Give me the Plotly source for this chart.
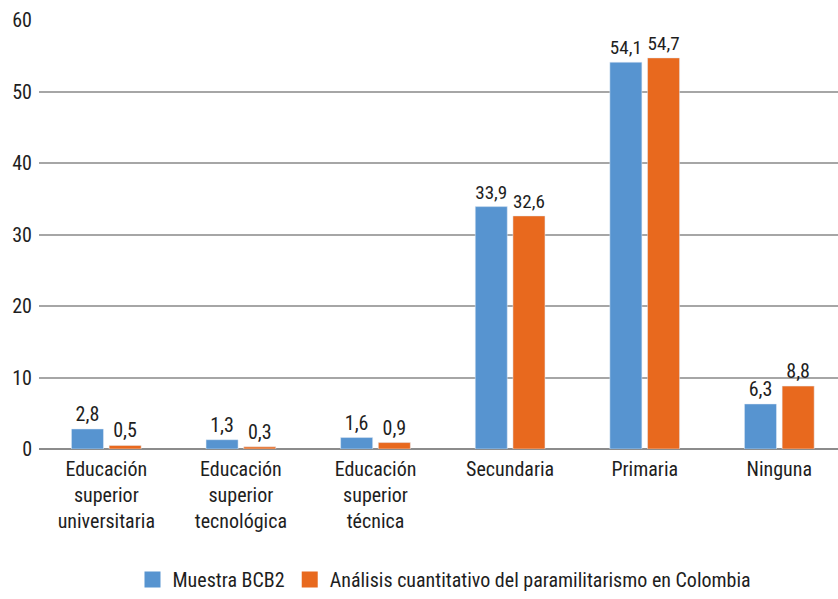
import plotly.graph_objects as go

categories = [
    'Educación<br>superior<br>universitaria',
    'Educación<br>superior<br>tecnológica',
    'Educación<br>superior<br>técnica',
    'Secundaria',
    'Primaria',
    'Ninguna',
]
muestra_bcb2 = [2.8, 1.3, 1.6, 33.9, 54.1, 6.3]
analisis_cuantitativo = [0.5, 0.3, 0.9, 32.6, 54.7, 8.8]
series_names = ['Muestra BCB2', 'Análisis cuantitativo del paramilitarismo en Colombia']
series_colors = ['#5794d0', '#e8691e']

FONT = 'Liberation Sans Narrow, Roboto Condensed, Arial Narrow, sans-serif'
TEXT = '#1e1e1e'

fig = go.Figure()
for values, name, color in zip([muestra_bcb2, analisis_cuantitativo], series_names, series_colors):
    fig.add_trace(go.Bar(
        x = categories,
        y = values,
        name = name,
        marker_color = color,
        texttemplate = '%{y:.1f}',
        textposition = 'outside',
        textfont = dict(size=20, color=TEXT),
        cliponaxis = False,
        showlegend = False,
    ))

# square legend swatches, larger than plotly's default bar symbol
for name, color in zip(series_names, series_colors):
    fig.add_trace(go.Scatter(
        x = [None],
        y = [None],
        mode = 'markers',
        name = name,
        marker = dict(symbol='square', size=19, color=color),
    ))

fig.update_layout(
    width = 838,
    height = 599,
    margin = dict(l=39, r=0, t=20, b=150),
    separators = ',.',
    font = dict(family=FONT, size=20, color=TEXT),
    plot_bgcolor = 'white',
    paper_bgcolor = 'white',
    barmode = 'group',
    bargap = 0.44,
    bargroupgap = 0.15,
    xaxis = dict(
        range = [-0.5, 5.436],
        showgrid = False,
        ticks = '',
        ticklabelstandoff = 6,
        automargin = False,
    ),
    yaxis = dict(
        range = [0, 60],
        dtick = 10,
        showgrid = True,
        gridcolor = '#a6a6a6',
        gridwidth = 1.5,
        zeroline = True,
        zerolinecolor = '#8c8c8c',
        zerolinewidth = 2,
        ticklabelstandoff = 6,
        automargin = False,
    ),
    # container ref so the legend does not push the bottom margin
    legend = dict(
        orientation = 'h',
        x = 0.5075,
        xanchor = 'center',
        yref = 'container',
        y = -0.012,
        yanchor = 'bottom',
        font = dict(size=20),
        itemwidth = 30,
    ),
)

# drop the default body margin so the figure fills the window exactly
fig.write_html(
    'out.html',
    config = {'displayModeBar': False},
    post_script = "document.body.style.margin='0';document.body.style.overflow='hidden';",
)
